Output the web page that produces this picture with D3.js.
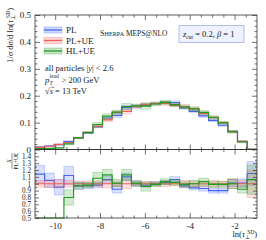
<!DOCTYPE html>
<html>
<head>
<meta charset="utf-8">
<script src="https://cdn.jsdelivr.net/npm/d3@7/dist/d3.min.js"></script>
<style>
body { margin: 0; background: #fff; }
text { font-family: "Liberation Serif", "DejaVu Serif", serif; }
</style>
</head>
<body>
<script>
var width = 266;
var height = 240;

// bin edges in ln(tau)
var edges = [-10.9, -10.47, -10.04, -9.61, -9.18, -8.75, -8.32, -7.89, -7.46, -7.03, -6.6, -6.17,
    -5.74, -5.31, -4.88, -4.45, -4.02, -3.59, -3.16, -2.73, -2.3, -1.87, -1.44, -1.01];

// 1/sigma dsigma/dln(tau) per bin
var plue = [0.008, 0.012, 0.019, 0.026, 0.044, 0.064, 0.086, 0.110, 0.138, 0.142, 0.160, 0.168,
    0.171, 0.171, 0.164, 0.160, 0.151, 0.134, 0.120, 0.100, 0.066, 0.030, 0.0008];
var pl = [0.009, 0.013, 0.018, 0.029, 0.043, 0.062, 0.084, 0.117, 0.127, 0.156, 0.160, 0.165,
    0.171, 0.174, 0.174, 0.155, 0.142, 0.125, 0.108, 0.090, 0.067, 0.030, 0.0009];
var hlue = [0.003, 0.004, 0.006, 0.021, 0.043, 0.063, 0.093, 0.124, 0.139, 0.160, 0.162, 0.161,
    0.169, 0.176, 0.167, 0.158, 0.151, 0.138, 0.119, 0.099, 0.066, 0.028, 0.0008];

// ratios to PL+UE
var ratioPL = [1.14, 1.05, 0.95, 1.12, 0.97, 0.97, 0.98, 1.06, 0.92, 1.10, 1.00, 0.98,
    1.00, 1.02, 1.06, 0.97, 0.94, 0.93, 0.90, 0.90, 1.01, 1.01, 1.15];
var ratioHL = [0.38, 0.33, 0.32, 0.80, 0.97, 0.98, 1.08, 1.13, 1.01, 1.13, 1.01, 0.96,
    0.99, 1.03, 1.02, 0.99, 1.00, 1.03, 0.99, 0.99, 1.00, 0.92, 1.06];

// relative uncertainties
var errPL = [0.11, 0.10, 0.12, 0.12, 0.05, 0.04, 0.04, 0.05, 0.06, 0.05, 0.04, 0.03,
    0.03, 0.03, 0.04, 0.03, 0.03, 0.04, 0.04, 0.04, 0.05, 0.06, 0.15];
var errPLUE = [0.05, 0.05, 0.06, 0.05, 0.04, 0.04, 0.04, 0.06, 0.04, 0.07, 0.03, 0.03,
    0.03, 0.04, 0.03, 0.05, 0.04, 0.04, 0.05, 0.04, 0.07, 0.05, 0.20];
var errHL = [0.10, 0.10, 0.10, 0.14, 0.05, 0.04, 0.08, 0.07, 0.05, 0.07, 0.04, 0.07,
    0.03, 0.04, 0.04, 0.04, 0.05, 0.05, 0.04, 0.04, 0.07, 0.06, 0.20];

var names = ["PL", "PL+UE", "HL+UE"];
var colors = ["#4466f2", "#f0605a", "#229a22"];

var mainTicks = [0, 0.1, 0.2, 0.3, 0.4, 0.5];
var mainLabels = ["0", "0.1", "0.2", "0.3", "0.4", "0.5"];
var ratioTicks = [0.5, 0.6, 0.7, 0.8, 0.9, 1, 1.1, 1.2, 1.3, 1.4];
var ratioLabels = ["0.5", "0.6", "0.7", "0.8", "0.9", "1", "1.1", "1.2", "1.3", "1.4"];
var xTicks = [-10, -8, -6, -4, -2];

var padL = 35, padR = 257, padT = 15, midY = 149.5, padB = 218;
var ink = "#222";

var svg = d3.select("body").append("svg")
    .attr("width", width)
    .attr("height", height);

var x = d3.scaleLinear().domain([-10.9, -1.0]).range([padL, padR]);
var yMain = d3.scaleLinear().domain([0, 0.5]).range([midY, padT]);
var yRatio = d3.scaleLinear().domain([0.5, 1.5]).range([padB, midY]).clamp(true);

var defs = svg.append("defs");
defs.append("clipPath").attr("id", "clipMain")
    .append("rect").attr("x", padL).attr("y", padT).attr("width", padR - padL).attr("height", midY - padT);
defs.append("clipPath").attr("id", "clipRatio")
    .append("rect").attr("x", padL).attr("y", midY - 1).attr("width", padR - padL).attr("height", padB - midY + 2);

function binData(vals, errs) {
    return vals.map(function(v, i) {
        return {x0: edges[i], x1: edges[i + 1], v: v, lo: v * (1 - errs[i]), hi: v * (1 + errs[i])};
    });
}

function drawSeries(g, data, yScale, color, bandOpacity) {
    g.selectAll("rect.band")
        .data(data)
        .enter().append("rect")
        .attr("class", "band")
        .attr("x", function(d) { return x(d.x0); })
        .attr("width", function(d) { return x(d.x1) - x(d.x0); })
        .attr("y", function(d) { return yScale(d.hi); })
        .attr("height", function(d) { return yScale(d.lo) - yScale(d.hi); })
        .attr("fill", color)
        .attr("fill-opacity", bandOpacity)
        .attr("stroke", color)
        .attr("stroke-opacity", bandOpacity + 0.12)
        .attr("stroke-width", 0.8);

    var pts = [];
    data.forEach(function(d) {
        pts.push([d.x0, d.v]);
        pts.push([d.x1, d.v]);
    });
    g.append("path")
        .datum(pts)
        .attr("fill", "none")
        .attr("stroke", color)
        .attr("stroke-width", 1.15)
        .attr("d", d3.line()
            .x(function(p) { return x(p[0]); })
            .y(function(p) { return yScale(p[1]); }));
}

// main panel
var mainG = svg.append("g").attr("clip-path", "url(#clipMain)");
var mainSets = [binData(pl, errPL), binData(plue, errPLUE), binData(hlue, errHL)];
mainSets.forEach(function(d, i) {
    drawSeries(mainG.append("g"), d, yMain, colors[i], 0.16);
});

// ratio panel
var ratioG = svg.append("g").attr("clip-path", "url(#clipRatio)");
var ones = plue.map(function() { return 1; });
var ratioSets = [binData(ratioPL, errPL), binData(ones, errPLUE), binData(ratioHL, errHL)];
ratioSets.forEach(function(d, i) {
    drawSeries(ratioG.append("g"), d, yRatio, colors[i], 0.2);
});

// axes
function minorRange(a, b, step) {
    var out = [];
    for (var v = a; v <= b + 1e-9; v += step) out.push(+v.toFixed(4));
    return out;
}
var xMinor = minorRange(-10.5, -1.5, 0.5).filter(function(v) { return v % 2 !== 0; });
var yMinor = minorRange(0.02, 0.48, 0.02).filter(function(v) { return Math.abs(v * 10 - Math.round(v * 10)) > 1e-6; });
var rMinor = minorRange(0.55, 1.45, 0.1);

function addAxis(axis, tx, ty) {
    var g = svg.append("g")
        .attr("transform", "translate(" + tx + "," + ty + ")")
        .call(axis);
    g.select(".domain").remove();
    g.selectAll(".tick line").attr("stroke", "#333").attr("stroke-width", 0.7);
    g.selectAll("text").attr("fill", ink);
    return g;
}

// x axes: main top/bottom, ratio top/bottom
[[d3.axisTop, padT], [d3.axisBottom, midY], [d3.axisTop, midY], [d3.axisBottom, padB]].forEach(function(a, i) {
    var g = addAxis(a[0](x).tickValues(xTicks).tickSize(-5).tickPadding(5)
        .tickFormat(function(d) { return i === 3 ? "-" + Math.abs(d) : ""; }), 0, a[1]);
    g.selectAll("text").attr("font-size", 9);
    addAxis(a[0](x).tickValues(xMinor).tickSize(-2.5).tickFormat(""), 0, a[1]);
});

// main y
addAxis(d3.axisLeft(yMain).tickValues(mainTicks).tickSize(-5).tickPadding(4)
    .tickFormat(function(d, i) { return mainLabels[i]; }), padL, 0)
    .selectAll("text").attr("font-size", 9);
addAxis(d3.axisLeft(yMain).tickValues(yMinor).tickSize(-2.5).tickFormat(""), padL, 0);
addAxis(d3.axisRight(yMain).tickValues(mainTicks).tickSize(-5).tickFormat(""), padR, 0);
addAxis(d3.axisRight(yMain).tickValues(yMinor).tickSize(-2.5).tickFormat(""), padR, 0);

// ratio y
addAxis(d3.axisLeft(yRatio).tickValues(ratioTicks).tickSize(-4).tickPadding(4)
    .tickFormat(function(d, i) { return ratioLabels[i]; }), padL, 0)
    .selectAll("text").attr("font-size", 7.2);
addAxis(d3.axisLeft(yRatio).tickValues(rMinor).tickSize(-2).tickFormat(""), padL, 0);
addAxis(d3.axisRight(yRatio).tickValues(ratioTicks).tickSize(-4).tickFormat(""), padR, 0);
addAxis(d3.axisRight(yRatio).tickValues(rMinor).tickSize(-2).tickFormat(""), padR, 0);

// frames
svg.append("rect").attr("x", padL).attr("y", padT).attr("width", padR - padL).attr("height", midY - padT)
    .attr("fill", "none").attr("stroke", "#333").attr("stroke-width", 0.8);
svg.append("rect").attr("x", padL).attr("y", midY).attr("width", padR - padL).attr("height", padB - midY)
    .attr("fill", "none").attr("stroke", "#333").attr("stroke-width", 0.8);
svg.append("line").attr("x1", padL).attr("x2", padR).attr("y1", yMain(0)).attr("y2", yMain(0))
    .attr("stroke", "#333").attr("stroke-width", 1);

// legend
var legend = svg.selectAll(".legend")
    .data(names)
    .enter().append("g")
    .attr("class", "legend")
    .attr("transform", function(d, i) { return "translate(44," + (30 + i * 10.5) + ")"; });
legend.append("rect")
    .attr("x", 0).attr("y", -3).attr("width", 18).attr("height", 6)
    .attr("fill", function(d, i) { return colors[i]; })
    .attr("fill-opacity", 0.25)
    .attr("stroke", function(d, i) { return colors[i]; })
    .attr("stroke-opacity", 0.4)
    .attr("stroke-width", 0.7);
legend.append("line")
    .attr("x1", 0).attr("x2", 18).attr("y1", 0).attr("y2", 0)
    .attr("stroke", function(d, i) { return colors[i]; })
    .attr("stroke-width", 1.3);
legend.append("text")
    .attr("x", 22).attr("y", 3.2)
    .attr("font-size", 9)
    .attr("fill", ink)
    .text(function(d) { return d; });

// generator label
var gen = svg.append("text").attr("x", 100).attr("y", 36).attr("font-size", 8).attr("fill", ink);
gen.append("tspan").text("S");
gen.append("tspan").attr("font-size", 6.2).text("HERPA");
gen.append("tspan").attr("font-size", 7.4).text(" MEPS@NLO");

// parameter box
svg.append("rect").attr("x", 179).attr("y", 25.5).attr("width", 65).attr("height", 17)
    .attr("fill", "#eef1ff").attr("stroke", "#9fb0ea").attr("stroke-width", 0.8);
var zt = svg.append("text").attr("x", 183).attr("y", 37).attr("font-size", 8.5).attr("fill", ink);
zt.append("tspan").attr("font-style", "italic").text("z");
zt.append("tspan").attr("font-size", 5.5).attr("dy", 2).text("cut");
zt.append("tspan").attr("dy", -2).text(" = 0.2, ");
zt.append("tspan").attr("font-style", "italic").text("\u03b2");
zt.append("tspan").text(" = 1");

// cut text
var t1 = svg.append("text").attr("x", 45).attr("y", 71).attr("font-size", 8.5).attr("fill", ink);
t1.append("tspan").text("all particles |");
t1.append("tspan").attr("font-style", "italic").text("y");
t1.append("tspan").text("| < 2.6");

svg.append("text").attr("x", 45).attr("y", 82.5).attr("font-size", 8.5).attr("fill", ink)
    .attr("font-style", "italic").text("p");
svg.append("text").attr("x", 49.5).attr("y", 84.5).attr("font-size", 5.5).attr("fill", ink)
    .attr("font-style", "italic").text("T");
svg.append("text").attr("x", 49.5).attr("y", 78).attr("font-size", 5.5).attr("fill", ink).text("lead");
svg.append("text").attr("x", 61.5).attr("y", 82.5).attr("font-size", 8.5).attr("fill", ink).text("> 200 GeV");

var t3 = svg.append("text").attr("x", 45).attr("y", 93.5).attr("font-size", 8.5).attr("fill", ink);
t3.append("tspan").text("\u221a");
t3.append("tspan").attr("font-style", "italic").text("s");
t3.append("tspan").text(" = 13 TeV");
svg.append("line").attr("x1", 50.5).attr("x2", 54.5).attr("y1", 87.3).attr("y2", 87.3)
    .attr("stroke", ink).attr("stroke-width", 0.5);

// y axis titles
var yl = svg.append("text")
    .attr("transform", "translate(13,8) rotate(-90)")
    .attr("text-anchor", "end")
    .attr("font-size", 8.5)
    .attr("fill", ink);
yl.append("tspan").text("1/");
yl.append("tspan").attr("font-style", "italic").text("\u03c3");
yl.append("tspan").text(" d");
yl.append("tspan").attr("font-style", "italic").text("\u03c3");
yl.append("tspan").text("/d ln(");
yl.append("tspan").attr("font-style", "italic").text("\u03c4");
yl.append("tspan").attr("font-size", 5.5).attr("dy", 2).text("\u22a5");
yl.append("tspan").attr("font-size", 5.5).attr("dy", -5.5).attr("dx", -3).text("SD");
yl.append("tspan").attr("dy", 3.5).text(")");

var rl = svg.append("g").attr("transform", "translate(13,161) rotate(-90)");
rl.append("text").attr("x", 0).attr("y", -2.5).attr("text-anchor", "middle").attr("fill", ink)
    .attr("font-size", 5.5).attr("font-style", "italic").text("X");
rl.append("line").attr("x1", -8).attr("x2", 8).attr("y1", -1).attr("y2", -1)
    .attr("stroke", ink).attr("stroke-width", 0.5);
rl.append("text").attr("x", 0).attr("y", 4.5).attr("text-anchor", "middle").attr("fill", ink)
    .attr("font-size", 5.5).text("PL+UE");

// x title
var xl = svg.append("text").attr("x", 257).attr("y", 237)
    .attr("text-anchor", "end").attr("font-size", 8.5).attr("fill", ink);
xl.append("tspan").text("ln(");
xl.append("tspan").attr("font-style", "italic").text("\u03c4");
xl.append("tspan").attr("font-size", 5.5).attr("dy", 2).text("\u22a5");
xl.append("tspan").attr("font-size", 5.5).attr("dy", -5.5).attr("dx", -3).text("SD");
xl.append("tspan").attr("dy", 3.5).text(")");
</script>
</body>
</html>
